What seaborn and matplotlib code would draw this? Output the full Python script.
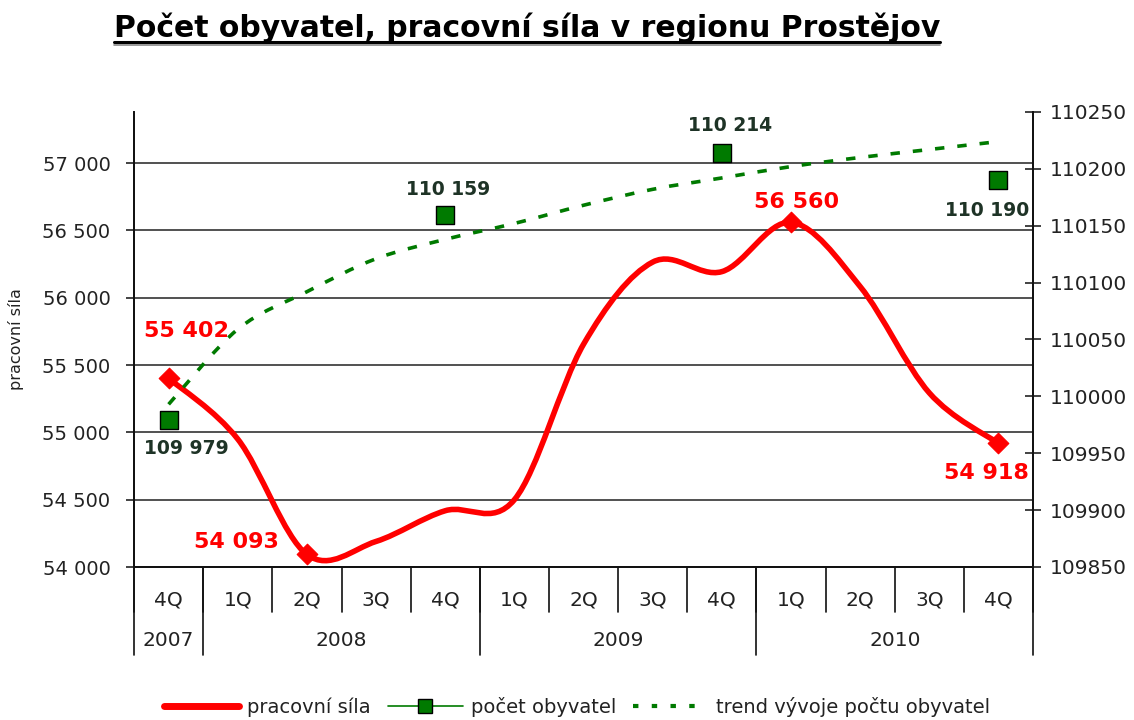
import numpy as np
import pandas as pd
import seaborn as sns
import matplotlib.pyplot as plt
from matplotlib.path import Path
from matplotlib.patches import PathPatch
from matplotlib.lines import Line2D

# data
quarters = ['4Q', '1Q', '2Q', '3Q', '4Q', '1Q', '2Q', '3Q', '4Q', '1Q', '2Q', '3Q', '4Q']
years = ['2007', '2008', '2008', '2008', '2008', '2009', '2009', '2009', '2009',
         '2010', '2010', '2010', '2010']
pracovni_sila = [55402, 54950, 54093, 54190, 54418, 54500, 55655, 56265, 56194,
                 56560, 56083, 55293, 54918]
pocet_obyvatel = [109979, np.nan, np.nan, np.nan, 110159, np.nan, np.nan, np.nan,
                  110214, np.nan, np.nan, np.nan, 110190]
trend = [109993, 110059, 110092, 110121, 110138, 110152, 110168, 110182, 110192,
         110202, 110210, 110217, 110224]
sila_oznacene = [0, 2, 9, 12]  # quarters with a marker and a value label

df = pd.DataFrame({'x': range(len(quarters)), 'q': quarters, 'rok': years,
                   'sila': pracovni_sila, 'obyv': pocet_obyvatel, 'trend': trend})

RED = '#ff0000'
GREEN = '#007a00'
fmt = lambda v: f'{int(v):,}'.replace(',', ' ')


def smooth_path(xs, ys):
    # Excel-like smoothed line (Catmull-Rom as bezier curves)
    pts = np.column_stack([xs, ys]).astype(float)
    verts = [pts[0]]
    codes = [Path.MOVETO]
    n = len(pts)
    for i in range(n - 1):
        p0 = pts[max(i - 1, 0)]
        p1 = pts[i]
        p2 = pts[i + 1]
        p3 = pts[min(i + 2, n - 1)]
        verts += [p1 + (p2 - p0) / 6, p2 - (p3 - p1) / 6, p2]
        codes += [Path.CURVE4] * 3
    return Path(verts, codes)


sns.set_theme(style='white')
plt.rcParams['font.family'] = ['DejaVu Sans']

fig = plt.figure(figsize=(11.34, 7.2), dpi=100)
ax = fig.add_axes([0.1182, 0.2125, 0.7928, 0.632])
ax2 = ax.twinx()

# left axis: pracovni sila
ax.set_xlim(-0.5, len(quarters) - 0.5)
ax.set_ylim(54000, 57380)
ax.set_yticks(range(54000, 57001, 500))
ax.set_yticklabels([fmt(v) for v in range(54000, 57001, 500)])
ax.yaxis.grid(True, color='#333333', linewidth=1.2)
ax.set_xticks([])
ax.tick_params(axis='y', direction='out', length=6, width=1.2, pad=11,
               labelsize=14, labelcolor='#222222', left=True, colors='#222222')

ax.add_patch(PathPatch(smooth_path(df['x'], df['sila']), fill=False,
                       edgecolor=RED, linewidth=4, capstyle='round', joinstyle='round',
                       zorder=3))
sel = df.iloc[sila_oznacene]
sns.scatterplot(data=sel, x='x', y='sila', ax=ax, marker='D', s=110, color=RED,
                edgecolor=RED, zorder=4, legend=False)
offs_red = [(13, 34), (-51, 9), (4, 15), (-9, -21)]
for (i, row), off in zip(sel.iterrows(), offs_red):
    ax.annotate(fmt(row['sila']), (row['x'], row['sila']), xytext=off,
                textcoords='offset points', ha='center', va='center',
                color=RED, fontsize=16, fontweight='bold')

# right axis: pocet obyvatel + trend
ax2.set_ylim(109850, 110250)
ax2.set_yticks(range(109850, 110251, 50))
ax2.tick_params(axis='y', direction='inout', length=12, width=1.2, pad=6,
                labelsize=14.5, labelcolor='#222222', right=True, colors='#222222')
ax2.grid(False)
ax2.add_patch(PathPatch(smooth_path(df['x'], df['trend']), fill=False,
                        edgecolor=GREEN, linewidth=2.6, linestyle=(0, (2.6, 3.6)),
                        capstyle='butt', zorder=3))
pop = df.dropna(subset=['obyv'])
sns.scatterplot(data=pop, x='x', y='obyv', ax=ax2, marker='s', s=150, color=GREEN,
                edgecolor='black', linewidth=1, zorder=4, legend=False)
offs_green = [(13, -20), (2, 19), (6, 20), (-8, -22)]
for (i, row), off in zip(pop.iterrows(), offs_green):
    ax2.annotate(fmt(row['obyv']), (row['x'], row['obyv']), xytext=off,
                 textcoords='offset points', ha='center', va='center',
                 color='#1e3326', fontsize=13.5, fontweight='bold')
ax2.set_xlabel('')
ax2.set_ylabel('')
ax.set_xlabel('')
ax.set_ylabel('')

for a in (ax, ax2):
    a.spines['top'].set_visible(False)
    for s in ('left', 'right', 'bottom'):
        a.spines[s].set_color('#111111')
        a.spines[s].set_linewidth(1.3)

# two-level category axis
tr = ax.get_xaxis_transform()
n = len(quarters)
for b in np.arange(n + 1) - 0.5:
    ax.plot([b, b], [0, -0.099], transform=tr, color='#111111', lw=1.2, clip_on=False)
for i, q in enumerate(quarters):
    ax.text(i, -0.072, q, transform=tr, ha='center', va='center', fontsize=14.5,
            color='#222222')
starts = [0] + [i for i in range(1, n) if years[i] != years[i - 1]]
ends = starts[1:] + [n]
for s, e in zip(starts, ends):
    ax.plot([s - 0.5, s - 0.5], [0, -0.193], transform=tr, color='#111111', lw=1.2,
            clip_on=False)
    ax.text((s + e - 1) / 2, -0.162, years[s], transform=tr, ha='center', va='center',
            fontsize=14.5, color='#222222')
ax.plot([n - 0.5, n - 0.5], [0, -0.193], transform=tr, color='#111111', lw=1.2,
        clip_on=False)

fig.text(16 / 1134, 0.2125 + 0.316, 'pracovní síla', rotation=90, ha='center',
         va='center', fontsize=11.5, color='#222222')

# title with underline
t = fig.text(0.4647, 1 - 37 / 720, 'Počet obyvatel, pracovní síla v regionu Prostějov',
             ha='center', va='baseline', fontsize=21.5, fontweight='bold', color='black')
fig.canvas.draw()
bb = t.get_window_extent()
for y, c, w in ((1 - 41.5 / 720, 'black', 2.2), (1 - 45 / 720, '#888888', 1.2)):
    fig.add_artist(Line2D([bb.x0 / 1134, bb.x1 / 1134], [y, y], color=c, lw=w,
                          transform=fig.transFigure))

handles = [
    Line2D([], [], color=RED, lw=5),
    Line2D([], [], color=GREEN, lw=1.2, marker='s', markersize=10,
           markerfacecolor=GREEN, markeredgecolor='black'),
    Line2D([], [], color=GREEN, lw=3, linestyle=(0, (1.3, 3.2))),
]
fig.legend(handles, ['pracovní síla', 'počet obyvatel', 'trend vývoje počtu obyvatel'],
           loc='center', bbox_to_anchor=(0.509, 0.018), ncol=3, frameon=False,
           fontsize=14, handlelength=3.85, handletextpad=0.4, columnspacing=0.9,
           labelcolor='#222222')

fig.savefig('out.png', dpi=100, facecolor='white')
